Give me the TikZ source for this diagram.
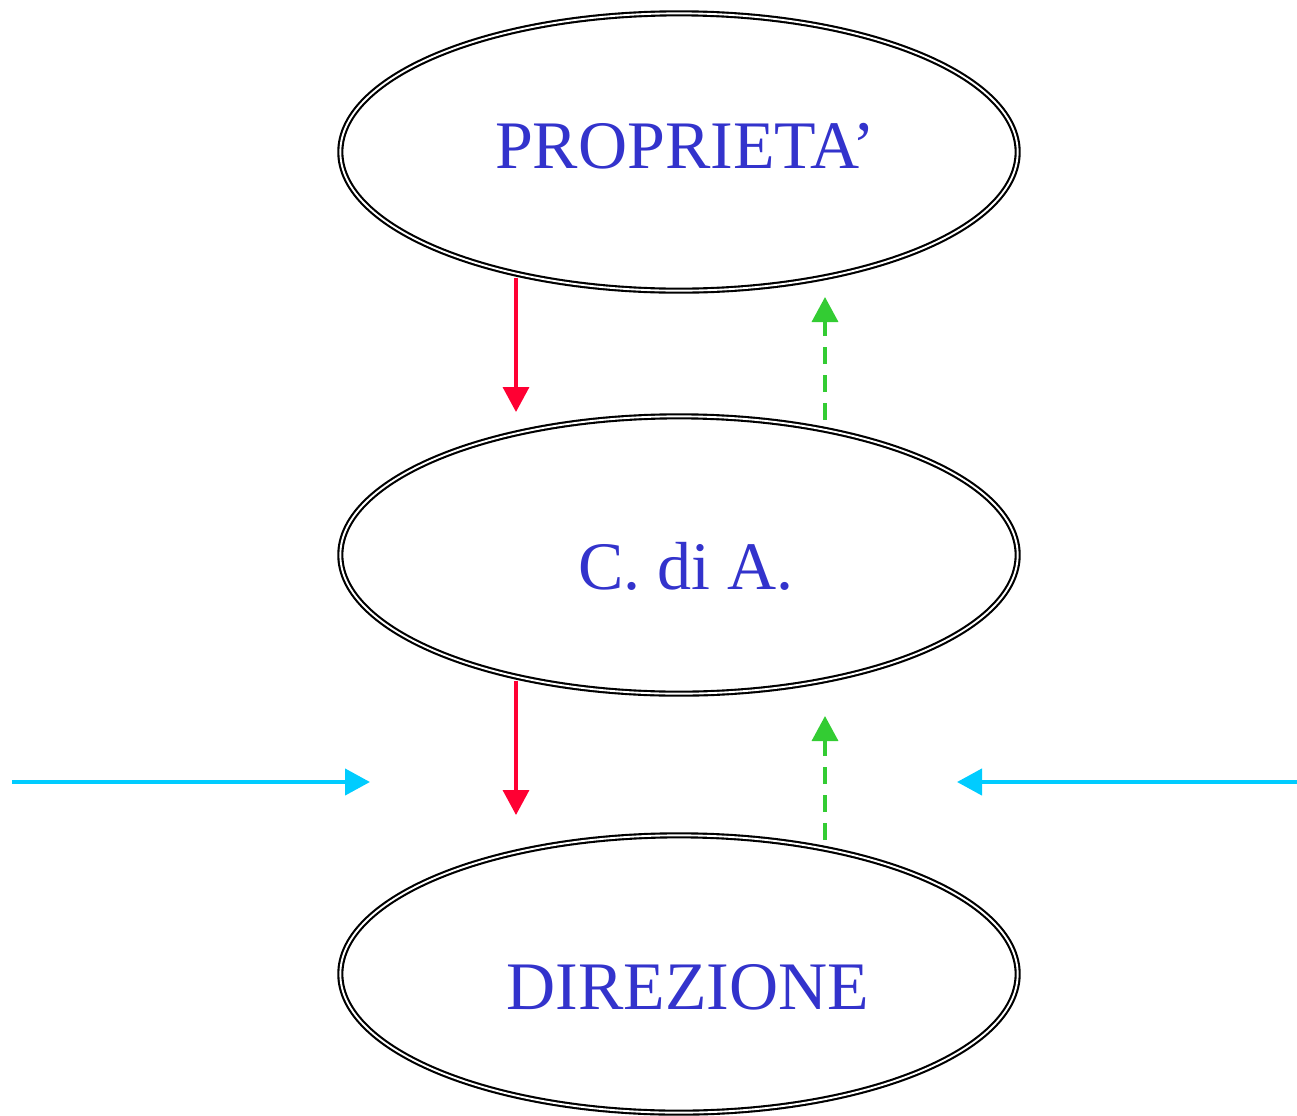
\documentclass[tikz,border=0pt]{standalone}
\usepackage{fontspec}
\setmainfont{Liberation Serif}
\usetikzlibrary{arrows.meta,shapes.geometric}
\definecolor{titleblue}{RGB}{51,51,204}
\definecolor{topdown}{RGB}{255,0,51}
\definecolor{bottomup}{RGB}{51,204,51}
\definecolor{outside}{RGB}{0,204,255}
\begin{document}
\begin{tikzpicture}[x=0.75pt,y=-0.75pt,line join=round,
	organo/.style={ellipse,draw,double,line width=1.6pt,double distance=1.4pt,minimum width=508pt,minimum height=208pt,inner sep=0pt},
	nome/.style={anchor=base,text=titleblue,font=\fontsize{51}{56}\selectfont},
	comando/.style={draw=topdown,line width=2.6pt,-{Triangle[length=18.75pt,width=19.5pt]}},
	controllo/.style={draw=bottomup,line width=2.6pt,dash pattern=on 12.75pt off 8.25pt,-{Triangle[length=18.75pt,width=19.5pt]}},
	esterno/.style={draw=outside,line width=3.2pt,-{Triangle[length=18.75pt,width=19.5pt]}}]
	\useasboundingbox (0,0) rectangle (1297,1115);
	% organi
	\node[organo] (prop) at (679,152) {};
	\node[organo] (cda) at (679,555) {};
	\node[organo] (dir) at (679,974) {};
	\node[nome] (tprop) at (685,168) {PROPRIETA’};
	\node[nome] (tcda) at (686,589) {C. di A.};
	\node[nome] (tdir) at (688,1009) {DIREZIONE};
	% estremi delle frecce
	\coordinate (c1a) at (516,278); \coordinate (c1b) at (516,412);
	\coordinate (c2a) at (516,681); \coordinate (c2b) at (516,815);
	\coordinate (k1a) at (825,420); \coordinate (k1b) at (825,297);
	\coordinate (k2a) at (825,840); \coordinate (k2b) at (825,716);
	\coordinate (e1a) at (12,782); \coordinate (e1b) at (370,782);
	\coordinate (e2a) at (1297,782); \coordinate (e2b) at (957,782);
	% frecce
	\draw[comando] (c1a) -- (c1b);
	\draw[comando] (c2a) -- (c2b);
	\draw[controllo] (k1a) -- (k1b);
	\draw[controllo] (k2a) -- (k2b);
	\draw[esterno] (e1a) -- (e1b);
	\draw[esterno] (e2a) -- (e2b);
\end{tikzpicture}
\end{document}
